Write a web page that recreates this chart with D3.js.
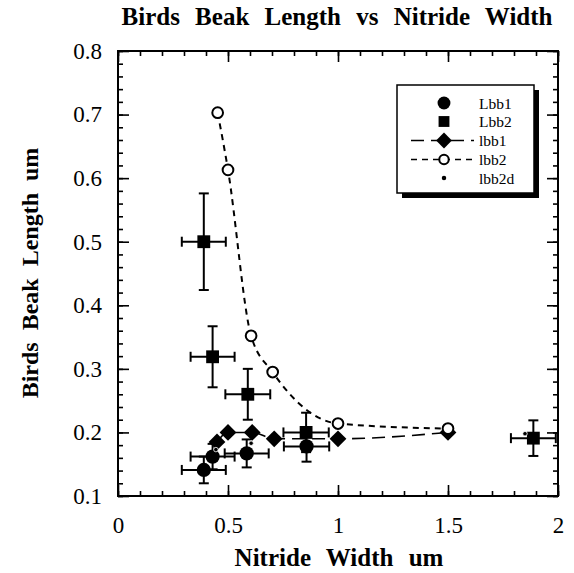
<!DOCTYPE html>
<html><head><meta charset="utf-8">
<script src="https://cdn.jsdelivr.net/npm/d3@7/dist/d3.min.js"></script>
<style>body{margin:0;background:#fff}svg{display:block}text{font-family:"Liberation Serif","DejaVu Serif",serif !important;fill:#000}</style>
</head><body><svg id="c" width="574" height="573"></svg>
<script>
// ---- data ----
const xTicks = [0, 0.5, 1, 1.5, 2];
const yTicks = [0.1, 0.2, 0.3, 0.4, 0.5, 0.6, 0.7, 0.8];
const xTickLabels = ["0", "0.5", "1", "1.5", "2"];
const yTickLabels = ["0.1", "0.2", "0.3", "0.4", "0.5", "0.6", "0.7", "0.8"];

// Lbb1 (filled circles, error bars)
const lbb1X  = [0.39, 0.43, 0.585, 0.857];
const lbb1Y  = [0.141, 0.162, 0.167, 0.178];
const lbb1Ex = [0.10, 0.10, 0.10, 0.103];
const lbb1Ey = [0.021, 0.02, 0.022, 0.024];
// Lbb2 (filled squares, error bars)
const lbb2X  = [0.39, 0.43, 0.59, 0.855, 1.888];
const lbb2Y  = [0.50, 0.319, 0.26, 0.20, 0.191];
const lbb2Ex = [0.10, 0.10, 0.102, 0.103, 0.102];
const lbb2Ey = [0.076, 0.048, 0.04, 0.031, 0.028];
// lbb1 (diamonds, long dash line)
const slbb1X = [0.45, 0.50, 0.61, 0.71, 1.0, 1.5];
const slbb1Y = [0.185, 0.20, 0.20, 0.19, 0.19, 0.20];
// lbb2 (open circles, short dash line)
const slbb2X = [0.453, 0.50, 0.605, 0.703, 1.0, 1.5];
const slbb2Y = [0.703, 0.613, 0.352, 0.295, 0.214, 0.206];
// lbb2d (small dots)
const slbb2dX = [0.445, 0.605, 1.85];
const slbb2dY = [0.173, 0.183, 0.198];

const seriesNames = ["Lbb1", "Lbb2", "lbb1", "lbb2", "lbb2d"];

// ---- layout ----
const svg = d3.select("#c");
const L = 118, R = 558, T = 51, B = 496;
const x = d3.scaleLinear().domain([0, 2]).range([L, R]);
const y = d3.scaleLinear().domain([0.1, 0.8]).range([B, T]);
const SERIF = '"Liberation Serif","DejaVu Serif",serif';

// title and axis titles
svg.append("text").attr("x", 337).attr("y", 25).attr("text-anchor", "middle")
  .style("font-family", SERIF).style("font-weight", "bold").style("font-size", "25px").style("word-spacing", "9px")
  .text("Birds Beak Length vs Nitride Width");
svg.append("text").attr("x", 339).attr("y", 566).attr("text-anchor", "middle")
  .style("font-family", SERIF).style("font-weight", "bold").style("font-size", "25px").style("word-spacing", "9px")
  .text("Nitride Width um");
svg.append("text").attr("transform", `translate(38,273) rotate(-90)`).attr("text-anchor", "middle")
  .style("font-family", SERIF).style("font-weight", "bold").style("font-size", "24px").style("word-spacing", "6px")
  .text("Birds Beak Length um");

// axes with inward ticks on all four sides
const xMinor = d3.range(0, 2.0001, 0.1).map(v => +v.toFixed(2));
const yMinor = d3.range(0.1, 0.8001, 0.02).map(v => +v.toFixed(2));
const tickFmtX = d => { const i = xTicks.findIndex(t => Math.abs(t - d) < 1e-9); return i >= 0 ? xTickLabels[i] : ""; };
const tickFmtY = d => { const i = yTicks.findIndex(t => Math.abs(t - d) < 1e-9); return i >= 0 ? yTickLabels[i] : ""; };

function styleAxis(g) {
  g.attr("font-family", SERIF);
  g.select(".domain").remove();
  g.selectAll("line").attr("stroke", "#000").attr("stroke-width", 1.6);
  g.selectAll("text").style("font-family", SERIF).style("font-size", "23px");
}
// minor
svg.append("g").attr("transform", `translate(0,${B})`).call(d3.axisBottom(x).tickValues(xMinor).tickSize(-5).tickFormat("")).call(styleAxis);
svg.append("g").attr("transform", `translate(0,${T})`).call(d3.axisTop(x).tickValues(xMinor).tickSize(-5).tickFormat("")).call(styleAxis);
svg.append("g").attr("transform", `translate(${L},0)`).call(d3.axisLeft(y).tickValues(yMinor).tickSize(-5).tickFormat("")).call(styleAxis);
svg.append("g").attr("transform", `translate(${R},0)`).call(d3.axisRight(y).tickValues(yMinor).tickSize(-5).tickFormat("")).call(styleAxis);
// major
svg.append("g").attr("transform", `translate(0,${B})`).call(d3.axisBottom(x).tickValues(xTicks).tickSize(-11).tickPadding(21).tickFormat(tickFmtX)).call(styleAxis);
svg.append("g").attr("transform", `translate(0,${T})`).call(d3.axisTop(x).tickValues(xTicks).tickSize(-11).tickFormat("")).call(styleAxis);
svg.append("g").attr("transform", `translate(${L},0)`).call(d3.axisLeft(y).tickValues(yTicks).tickSize(-11).tickPadding(16).tickFormat(tickFmtY)).call(styleAxis);
svg.append("g").attr("transform", `translate(${R},0)`).call(d3.axisRight(y).tickValues(yTicks).tickSize(-11).tickFormat("")).call(styleAxis);
// frame
svg.append("rect").attr("x", L).attr("y", T).attr("width", R - L).attr("height", B - T)
  .attr("fill", "none").attr("stroke", "#000").attr("stroke-width", 2);

const plot = svg.append("g");

// lines
const line = d3.line().x(d => x(d[0])).y(d => y(d[1])).curve(d3.curveMonotoneX);
plot.append("path").attr("d", line(d3.zip(slbb2X, slbb2Y))).attr("fill", "none")
  .attr("stroke", "#000").attr("stroke-width", 2).attr("stroke-dasharray", "6,5");
plot.append("path").attr("d", line(d3.zip(slbb1X, slbb1Y))).attr("fill", "none")
  .attr("stroke", "#000").attr("stroke-width", 1.6).attr("stroke-dasharray", "13,7");

// error bars
function errorBars(X, Y, EX, EY) {
  const g = plot.append("g").attr("stroke", "#000").attr("stroke-width", 2);
  X.forEach((xv, i) => {
    const cx = x(xv), cy = y(Y[i]);
    const x0 = x(xv - EX[i]), x1 = x(xv + EX[i]);
    const y0 = y(Y[i] - EY[i]), y1 = y(Y[i] + EY[i]);
    g.append("line").attr("x1", x0).attr("x2", x1).attr("y1", cy).attr("y2", cy);
    g.append("line").attr("x1", x0).attr("x2", x0).attr("y1", cy - 5).attr("y2", cy + 5);
    g.append("line").attr("x1", x1).attr("x2", x1).attr("y1", cy - 5).attr("y2", cy + 5);
    g.append("line").attr("x1", cx).attr("x2", cx).attr("y1", y0).attr("y2", y1);
    g.append("line").attr("x1", cx - 5).attr("x2", cx + 5).attr("y1", y0).attr("y2", y0);
    g.append("line").attr("x1", cx - 5).attr("x2", cx + 5).attr("y1", y1).attr("y2", y1);
  });
}
errorBars(lbb1X, lbb1Y, lbb1Ex, lbb1Ey);
errorBars(lbb2X, lbb2Y, lbb2Ex, lbb2Ey);

// markers
const sym = (type, size) => d3.symbol().type(type).size(size)();
function markers(X, Y, type, size, fill, stroke, sw) {
  plot.append("g").selectAll("path").data(d3.zip(X, Y)).join("path")
    .attr("transform", d => `translate(${x(d[0])},${y(d[1])})`)
    .attr("d", sym(type, size)).attr("fill", fill).attr("stroke", stroke).attr("stroke-width", sw);
}
markers(slbb1X, slbb1Y, d3.symbolDiamond2, 180, "#000", "none", 0);
markers(lbb1X, lbb1Y, d3.symbolCircle, 160, "#000", "none", 0);
markers(lbb2X, lbb2Y, d3.symbolSquare2, 210, "#000", "none", 0);
markers(slbb2X, slbb2Y, d3.symbolCircle, 90, "#fff", "#000", 2);
markers(slbb2dX, slbb2dY, d3.symbolCircle, 16, "#000", "#fff", 0.8);

// legend
const lg = svg.append("g").attr("transform", "translate(397,85)");
lg.append("rect").attr("x", 5).attr("y", 5).attr("width", 137).attr("height", 108).attr("fill", "#000");
lg.append("rect").attr("x", 0).attr("y", 0).attr("width", 137).attr("height", 108).attr("fill", "#fff").attr("stroke", "#000").attr("stroke-width", 1.5);
const rowY = [18, 36.5, 55.5, 74.5, 93];
const symX = 47, txtX = 82;
const legendSpecs = [
  { type: d3.symbolCircle, size: 130, fill: "#000", stroke: "none", sw: 0, dash: null },
  { type: d3.symbolSquare2, size: 150, fill: "#000", stroke: "none", sw: 0, dash: null },
  { type: d3.symbolDiamond2, size: 160, fill: "#000", stroke: "none", sw: 0, dash: "13,7" },
  { type: d3.symbolCircle, size: 70, fill: "#fff", stroke: "#000", sw: 2, dash: "6,5" },
  { type: d3.symbolCircle, size: 16, fill: "#000", stroke: "none", sw: 0, dash: null }
];
seriesNames.forEach((name, i) => {
  const s = legendSpecs[i], ry = rowY[i];
  if (s.dash) {
    lg.append("line").attr("x1", 14).attr("x2", 77).attr("y1", ry).attr("y2", ry)
      .attr("stroke", "#000").attr("stroke-width", 1.6).attr("stroke-dasharray", s.dash);
  }
  lg.append("path").attr("transform", `translate(${symX},${ry})`).attr("d", sym(s.type, s.size))
    .attr("fill", s.fill).attr("stroke", s.stroke).attr("stroke-width", s.sw);
  lg.append("text").attr("x", txtX).attr("y", ry + 5.5).style("font-family", SERIF).style("font-size", "15.5px").text(name);
});
</script></body></html>
